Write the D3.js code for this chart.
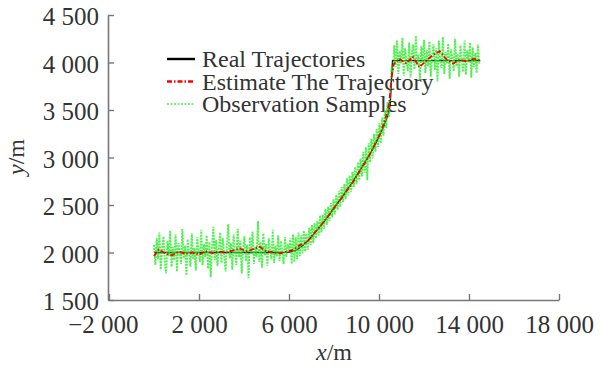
<!DOCTYPE html>
<html>
<head>
<meta charset="utf-8">
<script src="https://cdn.jsdelivr.net/npm/d3@7"></script>
<style>
  body { margin: 0; background: #fff; }
  svg { display: block; font-family: "Liberation Serif", "Times New Roman", serif; }
</style>
</head>
<body>
<svg id="chart" width="601" height="369"></svg>
<script>
// axis ticks
var xTicks = [-2000, 2000, 6000, 10000, 14000, 18000];
var yTicks = [1500, 2000, 2500, 3000, 3500, 4000, 4500];

// real trajectory
var realX = [0, 500, 1000, 1500, 2000, 2500, 3000, 3500, 4000, 4500, 5000, 5500, 6000,
  6300, 6600, 6900, 7200, 7500, 7800, 8100, 8400, 8700, 9000, 9300, 9600, 9900, 10200,
  10400, 10500, 10550, 10600, 11000, 11500, 12000, 12500, 13000, 13500, 14000, 14500];
var realY = [2000, 2000, 2000, 2000, 2000, 2000, 2000, 2000, 2000, 2000, 2000, 2000, 2005,
  2020, 2070, 2140, 2220, 2310, 2400, 2500, 2600, 2700, 2810, 2920, 3040, 3170, 3320,
  3450, 3560, 3800, 4020, 4020, 4020, 4020, 4020, 4020, 4020, 4020, 4020];

// estimated trajectory
var estX = [0, 200, 500, 800, 1100, 1400, 1700, 2000, 2300, 2600, 2900, 3200, 3500, 3800,
  4100, 4400, 4700, 5000, 5300, 5600, 5900, 6200, 6500, 6800, 7100, 7400, 7700, 8000,
  8300, 8600, 8900, 9200, 9500, 9800, 10100, 10300, 10450, 10550, 10650, 10900, 11200,
  11500, 11800, 12100, 12400, 12700, 13000, 13300, 13600, 13900, 14200, 14500];
var estY = [1960, 2030, 1990, 1970, 2010, 1985, 2000, 1975, 2015, 1995, 2010, 2000, 2020, 2045,
  2010, 2035, 2060, 2010, 2000, 1990, 2010, 2030, 2080, 2110, 2200, 2280, 2370, 2470,
  2560, 2660, 2760, 2880, 2990, 3130, 3280, 3420, 3560, 3820, 3980, 4040, 3990,
  4060, 3950, 4020, 4080, 4120, 4030, 3990, 4030, 4010, 4040, 4020];

// observation samples, one every 60 m from x = 0
var obsStep = 60;
var obsY = [
  2080, 1870, 2150, 1930, 2210, 1820, 2040, 2170, 1900, 1780,
  2120, 1960, 2230, 1850, 2060, 1920, 2190, 1800, 2100, 2010,
  1880, 2250, 1940, 2070, 1760, 2140, 1990, 1850, 2200, 1930,
  2050, 1810, 2160, 2020, 1900, 2240, 1870, 2090, 1950, 2180,
  1830, 2110, 1740, 2060, 2270, 1920, 2130, 1860, 2030, 2210,
  1890, 2150, 1970, 1800, 2080, 2300, 1940, 2100, 1820, 2190,
  2000, 1870, 2250, 1950, 2120, 1780, 2040, 2170, 1910, 2080,
  1730, 2160, 1990, 2220, 1880, 2060, 1950, 2330, 1900, 2110,
  1840, 2200, 1970, 2090, 1860, 2150, 2010, 1930, 2240, 1890,
  2070, 1960, 2180, 1910, 2120, 2000, 1880, 2160, 1950, 2090,
  2030,
  2150, 1880, 2190, 1900, 2160, 1930, 2210, 1960, 2180, 1990,
  2230, 2010, 2200, 2030, 2260, 2080, 2290, 2100, 2310, 2150,
  2330, 2180, 2390, 2210, 2400, 2250, 2460, 2290, 2480, 2330,
  2520, 2370, 2560, 2400, 2610, 2450, 2650, 2480, 2690, 2530,
  2720, 2560, 2780, 2600, 2810, 2640, 2850, 2690, 2900, 2720,
  2950, 2760, 2990, 2800, 3060, 2840, 3110, 2760, 3150, 2950,
  3200, 2990, 3250, 3060, 3300, 3110, 3360, 3150, 3420, 3230,
  3500, 3310, 3580, 3420, 3700, 3950,
  3900, 4180, 3950, 4230, 3880, 4120, 3990, 4260, 3860, 4150,
  4020, 3910, 4210, 3840, 4100, 4190, 3930, 4280, 3970, 4080,
  3820, 4170, 4000, 4240, 3890, 4130, 3960, 4220, 3850, 4060,
  4190, 3920, 4150, 3800, 4230, 4010, 3940, 4270, 3880, 4110,
  3990, 4200, 3830, 4140, 4050, 3910, 4250, 3960, 4090, 3850,
  4180, 4020, 3900, 4230, 3870, 4130, 4000, 4210, 3840, 4160,
  3950, 4100, 3890, 4190, 3980
];

var legendLabels = ["Real Trajectories", "Estimate The Trajectory", "Observation Samples"];

var svg = d3.select("#chart");
var axisColor = "#777";
var textColor = "#333";

var x = d3.scaleLinear().domain([-2000, 18000]).range([109, 559]);
var y = d3.scaleLinear().domain([1500, 4500]).range([300, 15]);

var loc = d3.formatLocale({ decimal: ".", thousands: " ", grouping: [3], currency: ["", ""], minus: "\u2212" });
var fmt = loc.format(",");

// x axis
var gx = svg.append("g")
  .attr("transform", "translate(0,300)")
  .call(d3.axisBottom(x).tickValues(xTicks).tickFormat(fmt).tickSize(-6).tickSizeOuter(0).tickPadding(15));
// y axis
var gy = svg.append("g")
  .attr("transform", "translate(108,0)")
  .call(d3.axisLeft(y).tickValues(yTicks).tickFormat(fmt).tickSize(-6).tickSizeOuter(0).tickPadding(9));

[gx, gy].forEach(function (g) {
  g.select(".domain").attr("stroke", axisColor).attr("stroke-width", 1.6);
  g.selectAll(".tick line").attr("stroke", axisColor).attr("stroke-width", 1.4);
  g.selectAll(".tick text")
    .attr("fill", textColor)
    .style("font-size", "25px")
    .style("font-family", "'Liberation Serif', serif");
});
gy.selectAll(".tick text").attr("dy", "0.38em");
gx.selectAll(".tick text").filter(function (d) { return d < 0; })
  .attr("text-anchor", "end").attr("x", 29);

// axis titles
var yt = svg.append("text")
  .attr("transform", "translate(24,157) rotate(-90)")
  .attr("text-anchor", "middle")
  .attr("fill", textColor)
  .style("font-size", "24px");
yt.append("tspan").style("font-style", "italic").text("y");
yt.append("tspan").text("/m");

var xt = svg.append("text")
  .attr("x", 334).attr("y", 360)
  .attr("text-anchor", "middle")
  .attr("fill", textColor)
  .style("font-size", "24px");
xt.append("tspan").style("font-style", "italic").text("x");
xt.append("tspan").text("/m");

// legend (drawn under the data)
var styles = [
  { color: "#000", width: 2.4, dash: null },
  { color: "#f00", width: 2.4, dash: "5,2,1.5,2" },
  { color: "#4e4", width: 1.6, dash: "2,1.5" }
];
var leg = svg.append("g");
legendLabels.forEach(function (lab, i) {
  var ly = 59 + i * 22.5;
  leg.append("line")
    .attr("x1", 167).attr("x2", 195).attr("y1", ly).attr("y2", ly)
    .attr("stroke", styles[i].color).attr("stroke-width", styles[i].width)
    .attr("stroke-dasharray", styles[i].dash);
  leg.append("text")
    .attr("x", 202).attr("y", ly + 8)
    .attr("fill", textColor)
    .style("font-size", "24px")
    .text(lab);
});

// data lines
var line = d3.line().x(function (d) { return x(d[0]); }).y(function (d) { return y(d[1]); });

var real = realX.map(function (v, i) { return [v, realY[i]]; });
var est = estX.map(function (v, i) { return [v, estY[i]]; });
var obs = obsY.map(function (v, i) { return [i * obsStep, v]; });

svg.append("path").datum(real)
  .attr("fill", "none").attr("stroke", "#000").attr("stroke-width", 1.3)
  .attr("d", line);

svg.append("path").datum(obs)
  .attr("fill", "none").attr("stroke", "#2e2").attr("stroke-width", 1.9)
  .attr("stroke-opacity", 0.8)
  .attr("stroke-dasharray", "2,1")
  .attr("d", line);

svg.append("path").datum(est)
  .attr("fill", "none").attr("stroke", "#f00").attr("stroke-width", 1.8)
  .attr("stroke-dasharray", "5,2,1.5,2")
  .attr("d", line);
</script>
</body>
</html>
